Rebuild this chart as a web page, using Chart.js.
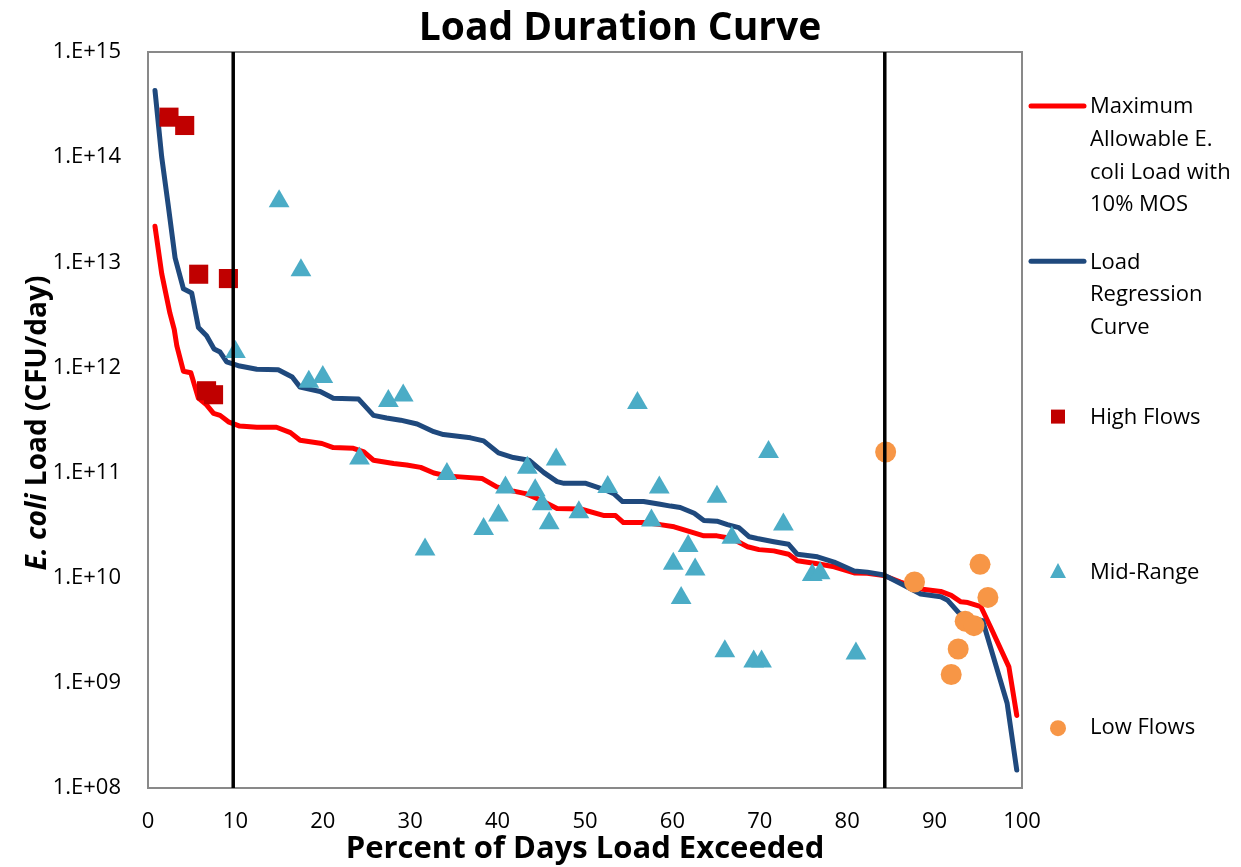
<!DOCTYPE html>
<html>
<head>
<meta charset="utf-8">
<title>Load Duration Curve</title>
<script src="https://cdn.jsdelivr.net/npm/chart.js@4.4.1/dist/chart.umd.min.js"></script>
<style>
  html, body { margin: 0; padding: 0; background: #fff; }
  canvas { display: block; }
</style>
</head>
<body>
<canvas id="ldc-chart" width="1241" height="867"></canvas>
<script>
/* ============================================
   Load Duration Curve – E. coli
   ============================================ */

// Maximum allowable load with 10% MOS
const maxLoadX = [0.8, 1.57, 2.5, 3.0, 3.3, 4.05, 4.9, 5.77, 6.7, 7.5, 8.25, 9.2, 10.5, 12.45, 14.7, 16.3, 17.4, 19.9,
    21.2, 23.5, 24.7, 25.8, 28.1, 29.6, 31.2, 32.7, 34.2, 35.7, 38.2, 39.9, 41.7, 43.2, 44.9, 46.8, 49.5, 52.2, 53.5,
    54.4, 56.7, 58.6, 60.2, 62.1, 63.6, 65.1, 66.8, 68.6, 69.9, 71.6, 73.3, 74.3, 76.6, 78.5, 80.8, 82.3, 84.2, 86.1,
    88.4, 90.7, 91.9, 93.0, 93.8, 95.3, 96.4, 98.5, 99.4];
const maxLoadY = [2.2e13, 7.8e12, 3.3e12, 2.3e12, 1.6e12, 9.2e11, 8.9e11, 5.1e11, 4.4e11, 3.65e11, 3.5e11, 3.04e11,
    2.77e11, 2.7e11, 2.7e11, 2.4e11, 2.03e11, 1.89e11, 1.73e11, 1.7e11, 1.57e11, 1.31e11, 1.22e11, 1.18e11, 1.12e11,
    9.9e10, 9.3e10, 9.1e10, 8.8e10, 7.3e10, 6.7e10, 6.3e10, 5.5e10, 4.55e10, 4.5e10, 3.9e10, 3.9e10, 3.35e10, 3.35e10,
    3.2e10, 3.05e10, 2.73e10, 2.5e10, 2.5e10, 2.36e10, 1.97e10, 1.85e10, 1.8e10, 1.67e10, 1.45e10, 1.36e10, 1.27e10,
    1.11e10, 1.1e10, 1.05e10, 9.1e9, 7.8e9, 7.4e9, 6.8e9, 5.9e9, 5.8e9, 5.3e9, 3.4e9, 1.42e9, 4.9e8];

// Load regression curve
const regressionX = [0.8, 1.57, 2.33, 3.1, 4.05, 5.0, 5.77, 6.7, 7.56, 8.25, 9.0, 10.5, 12.45, 14.9, 16.5, 17.4, 19.7,
    21.2, 24.1, 25.8, 27.3, 28.9, 30.8, 32.7, 33.8, 35.7, 36.9, 38.4, 40.1, 41.8, 43.6, 45.3, 46.8, 47.6, 50.1, 52.2,
    53.3, 54.3, 56.7, 58.6, 59.8, 60.9, 62.5, 63.6, 65.1, 66.3, 67.6, 68.8, 69.7, 71.6, 73.3, 74.3, 76.6, 78.5, 80.8,
    82.3, 84.2, 86.1, 88.4, 90.7, 91.5, 92.8, 93.8, 95.5, 98.3, 99.4];
const regressionY = [4.3e14, 1.0e14, 3.4e13, 1.1e13, 5.6e12, 5.1e12, 2.4e12, 2.0e12, 1.5e12, 1.4e12, 1.13e12, 1.03e12,
    9.6e11, 9.5e11, 8.1e11, 6.5e11, 5.9e11, 5.1e11, 5.0e11, 3.5e11, 3.3e11, 3.15e11, 2.9e11, 2.45e11, 2.3e11, 2.2e11,
    2.14e11, 2.0e11, 1.54e11, 1.39e11, 1.31e11, 1.0e11, 8.2e10, 7.9e10, 7.9e10, 6.9e10, 6.3e10, 5.3e10, 5.3e10, 5.0e10,
    4.8e10, 4.66e10, 4.1e10, 3.5e10, 3.45e10, 3.2e10, 3.0e10, 2.45e10, 2.36e10, 2.2e10, 2.08e10, 1.67e10, 1.58e10,
    1.41e10, 1.16e10, 1.13e10, 1.06e10, 8.8e9, 7.0e9, 6.6e9, 6.1e9, 4.6e9, 4.2e9, 3.9e9, 6.4e8, 1.48e8];

// Observed loads by flow regime
const highFlowX = [2.4, 4.2, 5.8, 6.7, 7.5, 9.2];
const highFlowY = [2.4e14, 2.0e14, 7.7e12, 6.0e11, 5.5e11, 7.0e12];

const midRangeX = [10.0, 15.0, 17.5, 18.4, 20.0, 24.2, 27.5, 29.2, 31.7, 34.2, 38.4, 40.1, 40.9, 43.4, 44.3, 45.1, 45.9,
    46.7, 49.3, 52.6, 56.0, 57.6, 58.5, 60.1, 61.0, 61.8, 62.6, 65.1, 66.0, 66.8, 69.3, 70.2, 71.0, 72.7, 76.0, 76.9, 81.0];
const midRangeY = [1.4e12, 3.8e13, 8.4e12, 7.3e11, 8.1e11, 1.36e11, 4.8e11, 5.4e11, 1.85e10, 9.7e10, 2.9e10, 3.9e10,
    7.2e10, 1.11e11, 6.8e10, 5.0e10, 3.3e10, 1.33e11, 4.2e10, 7.3e10, 4.6e11, 3.5e10, 7.2e10, 1.36e10, 6.4e9, 2.0e10,
    1.2e10, 5.9e10, 2.0e9, 2.4e10, 1.6e9, 1.6e9, 1.57e11, 3.2e10, 1.06e10, 1.1e10, 1.9e9];

const lowFlowX = [84.4, 87.7, 91.9, 92.7, 93.5, 94.5, 95.2, 96.1];
const lowFlowY = [1.57e11, 9.1e9, 1.2e9, 2.1e9, 3.86e9, 3.5e9, 1.34e10, 6.5e9];

// Flow regime boundaries (percent of days)
const regimeBreaks = [9.75, 84.3];

// Axes
const xTicks = [0, 10, 20, 30, 40, 50, 60, 70, 80, 90, 100];
const yTickExponents = [8, 9, 10, 11, 12, 13, 14, 15];

const legendLabels = [
    ['Maximum', 'Allowable E.', 'coli Load with', '10% MOS'],
    ['Load', 'Regression', 'Curve'],
    ['High Flows'],
    ['Mid-Range'],
    ['Low Flows']
];

const FONT = '"Open Sans", sans-serif';
const TICK_FONT = { family: FONT, size: 22 };

const toPoints = (xs, ys) => xs.map((x, i) => ({ x, y: ys[i] }));

const breakLines = regimeBreaks.map((b, i) => ({
    label: 'break' + i,
    data: [{ x: b, y: 1e8 }, { x: b, y: 1e15 }],
    showLine: true,
    borderColor: '#000000',
    borderWidth: 3.5,
    pointRadius: 0,
    order: 0
}));

// Frame around the plot area
const framePlugin = {
    id: 'frame',
    beforeDatasetsDraw(chart) {
        const { ctx, chartArea: a } = chart;
        ctx.save();
        ctx.strokeStyle = '#898989';
        ctx.lineWidth = 2;
        ctx.strokeRect(a.left, a.top, a.right - a.left, a.bottom - a.top);
        ctx.restore();
    }
};

// Title, y-axis title with italic E. coli, and the legend at the right
const textPlugin = {
    id: 'texts',
    afterDraw(chart) {
        const { ctx } = chart;
        ctx.save();
        ctx.fillStyle = '#000';

        // Chart title
        ctx.font = 'bold 39px ' + FONT;
        ctx.textAlign = 'center';
        ctx.textBaseline = 'alphabetic';
        ctx.fillText('Load Duration Curve', 620, 40);

        // Y axis title
        ctx.save();
        ctx.translate(46, 423);
        ctx.rotate(-Math.PI / 2);
        const partA = 'E. coli';
        const partB = ' Load (CFU/day)';
        ctx.font = 'italic bold 28px ' + FONT;
        const wA = ctx.measureText(partA).width;
        ctx.font = 'bold 28px ' + FONT;
        const wB = ctx.measureText(partB).width;
        const x0 = -(wA + wB) / 2;
        ctx.textAlign = 'left';
        ctx.font = 'italic bold 28px ' + FONT;
        ctx.fillText(partA, x0, 0);
        ctx.font = 'bold 28px ' + FONT;
        ctx.fillText(partB, x0 + wA, 0);
        ctx.restore();

        // Legend
        const sets = chart.data.datasets;
        ctx.font = '22px ' + FONT;
        ctx.textAlign = 'left';
        ctx.textBaseline = 'middle';
        legendLabels.forEach((lines, i) => {
            const ds = sets[i];
            const y = 106 + i * 155.3;
            if (ds.showLine) {
                ctx.strokeStyle = ds.borderColor;
                ctx.lineWidth = 5;
                ctx.lineCap = 'round';
                ctx.beginPath();
                ctx.moveTo(1031, y);
                ctx.lineTo(1084, y);
                ctx.stroke();
            } else {
                ctx.fillStyle = ds.backgroundColor;
                ctx.beginPath();
                if (ds.pointStyle === 'rect') {
                    ctx.rect(1051, y - 7, 14, 14);
                } else if (ds.pointStyle === 'triangle') {
                    ctx.moveTo(1058, y - 9);
                    ctx.lineTo(1066, y + 6);
                    ctx.lineTo(1050, y + 6);
                    ctx.closePath();
                } else {
                    ctx.arc(1058, y + 1, 8, 0, Math.PI * 2);
                }
                ctx.fill();
            }
            ctx.fillStyle = '#000';
            lines.forEach((t, j) => ctx.fillText(t, 1090, y + 1 + j * 32.7));
        });
        ctx.restore();
    }
};

new Chart(document.getElementById('ldc-chart'), {
    type: 'scatter',
    data: {
        datasets: [
            {
                label: 'Maximum Allowable E. coli Load with 10% MOS',
                data: toPoints(maxLoadX, maxLoadY),
                showLine: true,
                borderColor: '#FF0000',
                borderWidth: 5,
                borderCapStyle: 'round',
                borderJoinStyle: 'round',
                pointRadius: 0,
                tension: 0,
                order: 5
            },
            {
                label: 'Load Regression Curve',
                data: toPoints(regressionX, regressionY),
                showLine: true,
                borderColor: '#1F497D',
                borderWidth: 5,
                borderCapStyle: 'round',
                borderJoinStyle: 'round',
                pointRadius: 0,
                tension: 0,
                order: 4
            },
            {
                label: 'High Flows',
                data: toPoints(highFlowX, highFlowY),
                pointStyle: 'rect',
                pointRadius: 13.5,
                backgroundColor: '#C00000',
                borderWidth: 0,
                order: 3
            },
            {
                label: 'Mid-Range',
                data: toPoints(midRangeX, midRangeY),
                pointStyle: 'triangle',
                pointRadius: 12,
                backgroundColor: '#4BACC6',
                borderWidth: 0,
                order: 2
            },
            {
                label: 'Low Flows',
                data: toPoints(lowFlowX, lowFlowY),
                pointStyle: 'circle',
                pointRadius: 10.5,
                backgroundColor: '#F79646',
                borderWidth: 0,
                order: 1
            },
            ...breakLines
        ]
    },
    options: {
        responsive: false,
        animation: false,
        events: [],
        layout: { padding: { top: 52, right: 219, left: 0, bottom: 0 } },
        plugins: {
            legend: { display: false },
            title: { display: false },
            tooltip: { enabled: false }
        },
        scales: {
            x: {
                type: 'linear',
                min: 0,
                max: 100,
                afterBuildTicks: s => { s.ticks = xTicks.map(v => ({ value: v })); },
                afterFit: s => { s.height = 79; },
                grid: { display: false, drawTicks: false },
                border: { display: false },
                ticks: { color: '#000', font: TICK_FONT, padding: 21, maxRotation: 0 },
                title: {
                    display: true,
                    text: 'Percent of Days Load Exceeded',
                    color: '#000',
                    font: { family: FONT, size: 31, weight: 'bold' },
                    padding: { top: 0, bottom: -1 }
                }
            },
            y: {
                type: 'logarithmic',
                min: 1e8,
                max: 1e15,
                afterBuildTicks: s => { s.ticks = yTickExponents.map(e => ({ value: Math.pow(10, e) })); },
                afterFit: s => { s.width = 148; },
                grid: { display: false, drawTicks: false },
                border: { display: false },
                ticks: {
                    color: '#000',
                    font: TICK_FONT,
                    padding: 27,
                    callback: v => '1.E+' + String(Math.round(Math.log10(v))).padStart(2, '0')
                }
            }
        }
    },
    plugins: [framePlugin, textPlugin]
});
</script>
</body>
</html>
